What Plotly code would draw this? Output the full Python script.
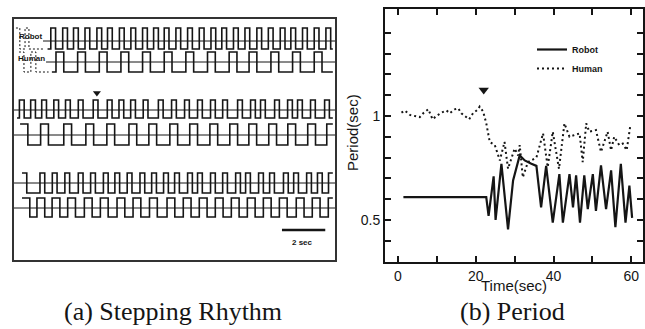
import plotly.graph_objects as go

# ---------------- Panel (b): Period ----------------
robot_time = [1.4, 22.7, 23.3, 24.6, 25.1, 26.6, 28.3, 29.6, 31.3, 32.6, 34.3, 35.6, 36.8, 38.1,
              39.8, 41.5, 42.4, 44.1, 45.0, 45.8, 46.8, 47.9, 48.8, 50.1, 50.9, 52.2, 53.5, 54.8,
              55.9, 57.3, 58.5, 59.5, 60.2]
robot_period = [0.61, 0.61, 0.52, 0.71, 0.50, 0.77, 0.455, 0.69, 0.81, 0.786, 0.77, 0.76, 0.56, 0.76,
                0.487, 0.72, 0.487, 0.72, 0.56, 0.714, 0.487, 0.714, 0.552, 0.72, 0.544, 0.762, 0.552,
                0.738, 0.466, 0.77, 0.487, 0.665, 0.51]

human_time = [0.9, 1.8, 3.1, 4.4, 5.6, 6.5, 7.8, 8.9, 9.9, 11.2, 12.5, 13.3, 14.6, 15.5, 16.3, 17.6,
              18.3, 19.3, 20.6, 21.0, 21.9, 22.7, 23.6, 24.9, 25.7, 26.2, 27.4, 28.3, 30.0, 30.9,
              31.3, 32.1, 33.4, 35.6, 37.3, 38.5, 39.8, 41.4, 42.8, 44.1, 45.4, 46.7, 47.5, 48.4,
              49.2, 50.9, 52.2, 53.9, 54.8, 55.6, 56.9, 57.8, 58.8, 59.7]
human_period = [1.016, 1.026, 1.005, 1.0, 0.994, 1.013, 1.032, 0.984, 1.0, 1.016, 1.026, 1.013, 1.032,
                1.037, 1.013, 0.994, 0.984, 1.013, 1.032, 1.045, 1.021, 0.965, 0.875, 0.86, 0.81,
                0.786, 0.875, 0.746, 0.843, 0.81, 0.86, 0.705, 0.778, 0.80, 0.916, 0.754, 0.924,
                0.746, 0.964, 0.90, 0.908, 0.916, 0.778, 0.964, 0.924, 0.932, 0.827, 0.924, 0.835,
                0.90, 0.86, 0.867, 0.835, 0.948]

switch_time = [22.05]
switch_mark = [1.125]

x_tick_vals = [0, 10, 20, 30, 40, 50, 60]
x_tick_text = ["0", "", "20", "", "40", "", "60"]
y_tick_vals = [0.4, 0.5, 0.6, 0.7, 0.8, 0.9, 1.0, 1.1, 1.2, 1.3, 1.4]
y_tick_text = ["", "0.5", "", "", "", "", "1", "", "", "", ""]

# ---------------- Panel (a): Stepping rhythm (rise times of each pulse, seconds) ----------------
p1_robot_rises = [1.70, 2.25, 2.75, 3.28, 3.83, 4.32, 4.87, 5.40, 5.94, 6.45, 6.94, 7.48, 8.02,
                  8.56, 9.10, 9.60, 10.14, 10.67, 11.22, 11.75, 12.30, 12.79, 13.33, 13.87, 14.41]
p1_human_rises = [1.94, 2.94, 3.94, 4.94, 5.94, 6.94, 7.94, 8.94, 9.94, 10.86, 11.87, 12.87, 13.87]
p2_robot_rises = [0.25, 0.77, 1.28, 1.84, 2.38, 2.97, 3.66, 4.31, 4.85, 5.39, 5.97, 6.67, 7.28,
                  7.88, 8.48, 9.08, 9.64, 10.33, 10.93, 11.39, 12.04, 12.64, 13.10, 13.70, 14.35]
p2_human_rises = [0.28, 1.23, 2.30, 3.32, 4.29, 5.31, 6.23, 7.20, 8.12, 9.05, 9.97, 10.85, 11.77,
                  12.65, 13.57, 14.45]
p3_robot_rises = [0.37, 1.20, 1.77, 2.35, 2.97, 3.54, 4.13, 4.66, 5.23, 5.82, 6.36, 6.91, 7.42,
                  8.02, 8.48, 9.08, 9.64, 10.24, 10.70, 11.30, 11.81, 12.45, 12.92, 13.52, 14.02, 14.53]
p3_human_rises = [0.37, 1.06, 1.76, 2.48, 3.25, 3.99, 4.76, 5.50, 6.26, 7.07, 7.82, 8.56, 9.30,
                  10.04, 10.78, 11.52, 12.26, 13.04, 13.78, 14.52]
robot_pulse_len = 0.22
human_pulse_len = 0.36
key_robot_rises = [0.09, 0.51]
key_human_rises = [0.23, 0.78]
trace_starts = [1.55, 1.75, 0.14, 0.28, 0.37, 0.37]
trace_end = 14.73
scale_bar = [12.38, 14.38]   # 2 sec
rhythm_switch = [3.83]

INK = "#151515"
fig = go.Figure()

def wave(rises, width, start, end, base, up, down):
    xs, ys = [start], [base + down]
    for r in rises:
        if r >= end:
            break
        if r <= start:
            ys[0] = base + up
        else:
            xs.append(r); ys.append(base + up)
        f = r + width
        if f >= end:
            break
        xs.append(f); ys.append(base + down)
    xs.append(end); ys.append(ys[-1])
    return xs, ys

rows = [
    (p1_robot_rises, robot_pulse_len, 41, -13, 8, 1.34),
    (p1_human_rises, human_pulse_len, 62, -10, 10, 1.48),
    (p2_robot_rises, robot_pulse_len, 110, -10, 8, 0.0),
    (p2_human_rises, human_pulse_len, 135, -11, 10, 0.0),
    (p3_robot_rises, robot_pulse_len, 183, -10, 10, 0.0),
    (p3_human_rises, human_pulse_len, 208, -10, 9, 0.0),
]
X_END = 14.83
for i, (rises, w, base, up, down, bstart) in enumerate(rows):
    fig.add_trace(go.Scatter(x=[bstart, X_END], y=[base, base], mode="lines",
                             line=dict(color=INK, width=1), showlegend=False, hoverinfo="skip",
                             xaxis="x", yaxis="y"))
    xs, ys = wave(rises, w, trace_starts[i], trace_end, base, up, down)
    fig.add_trace(go.Scatter(x=xs, y=ys, mode="lines", line=dict(color=INK, width=1.6, shape="hv"),
                             showlegend=False, hoverinfo="skip", xaxis="x", yaxis="y"))

# dotted key waveforms next to labels
for rises, w, base, up, down, s, e in [(key_robot_rises, 0.18, 41, -13, 8, 0.09, 1.34),
                                        (key_human_rises, 0.23, 62, -10, 10, 0.23, 1.6)]:
    xs, ys = wave(rises, w, s, e, base, up, down)
    fig.add_trace(go.Scatter(x=xs, y=ys, mode="lines",
                             line=dict(color=INK, width=1, shape="hv", dash="2px,2px"),
                             showlegend=False, hoverinfo="skip", xaxis="x", yaxis="y"))

fig.add_trace(go.Scatter(x=scale_bar, y=[230, 230], mode="lines", line=dict(color=INK, width=2.5),
                         showlegend=False, hoverinfo="skip", xaxis="x", yaxis="y"))
fig.add_trace(go.Scatter(x=rhythm_switch, y=[93], mode="markers",
                         marker=dict(symbol="triangle-down", size=7, color=INK),
                         showlegend=False, hoverinfo="skip", xaxis="x", yaxis="y"))

# ---------------- Panel (b) traces ----------------
fig.add_trace(go.Scatter(x=robot_time, y=robot_period, mode="lines", name="Robot",
                         line=dict(color=INK, width=2.2), xaxis="x2", yaxis="y2"))
fig.add_trace(go.Scatter(x=human_time, y=human_period, mode="lines", name="Human",
                         line=dict(color=INK, width=2, dash="2px,3px"), xaxis="x2", yaxis="y2"))
fig.add_trace(go.Scatter(x=switch_time, y=switch_mark, mode="markers",
                         marker=dict(symbol="triangle-down", size=9, color=INK),
                         showlegend=False, hoverinfo="skip", xaxis="x2", yaxis="y2"))

W, H = 645, 329
sans = "Liberation Sans"

def note(text, x, y, size, family=sans, ref="paper", bold=False, angle=0):
    return dict(text=text, x=x, y=y, xref=ref if ref != "paper" else "paper",
                yref=("y" if ref == "x" else "paper"), showarrow=False,
                xanchor="center", yanchor="middle", textangle=angle,
                font=dict(size=size, family=family, color=INK, weight="bold" if bold else "normal"))

fig.update_layout(
    width=W, height=H, margin=dict(l=0, r=0, t=0, b=0),
    paper_bgcolor="white", plot_bgcolor="white",
    font=dict(family=sans, color=INK),
    xaxis=dict(domain=[14 / W, 335 / W], range=[0, X_END], showline=True, mirror=True,
               linecolor="#333", linewidth=1.5, showgrid=False, zeroline=False,
               showticklabels=False, ticks=""),
    yaxis=dict(domain=[(H - 260) / H, (H - 19) / H], range=[260, 19], showline=True, mirror=True,
               linecolor="#333", linewidth=1.5, showgrid=False, zeroline=False,
               showticklabels=False, ticks=""),
    xaxis2=dict(domain=[385 / W, 643 / W], range=[-3.33, 63.0], anchor="y2",
                showline=True, mirror="ticks", linecolor=INK, linewidth=2,
                ticks="inside", ticklen=6, tickwidth=1.5, tickcolor=INK,
                tickvals=x_tick_vals, ticktext=x_tick_text, tickfont=dict(size=14),
                showgrid=False, zeroline=False),
    yaxis2=dict(domain=[(H - 262) / H, (H - 9) / H], range=[0.298, 1.514], anchor="x2",
                showline=True, mirror="ticks", linecolor=INK, linewidth=2,
                ticks="inside", ticklen=6, tickwidth=1.5, tickcolor=INK,
                tickvals=y_tick_vals, ticktext=y_tick_text, tickfont=dict(size=14),
                showgrid=False, zeroline=False),
    legend=dict(x=532 / W, xanchor="left", y=(H - 35) / H, yanchor="top",
                bgcolor="rgba(0,0,0,0)", font=dict(size=9, family=sans, weight="bold", color=INK),
                tracegroupgap=0),
    annotations=[
        note("Robot", 0.74, 36, 8, ref="x", bold=True),
        note("Human", 0.80, 58, 8, ref="x", bold=True),
        note("2 sec", 13.35, 242, 8, ref="x", bold=True),
        note("Time(sec)", 514 / W, (H - 285) / H, 15),
        note("Period(sec)", 352 / W, (H - 133) / H, 15, angle=-90),
        note("(a) Stepping Rhythm", 173 / W, (H - 311) / H, 26, family="Liberation Serif"),
        note("(b) Period", 512 / W, (H - 311) / H, 26, family="Liberation Serif"),
    ],
)

fig.write_html("out.html")
